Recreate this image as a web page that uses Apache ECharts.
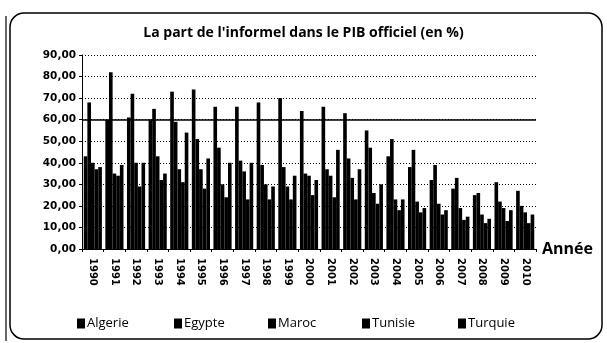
<!DOCTYPE html>
<html>
<head>
<meta charset="utf-8">
<script src="https://cdn.jsdelivr.net/npm/echarts@6/dist/echarts.min.js"></script>
<style>
  html, body { margin: 0; padding: 0; background: #fff; }
  #chart { width: 607px; height: 343px; }
</style>
</head>
<body>
<div id="chart"></div>
<script>
// Share of the informal economy in official GDP (%), 1990-2010
const years = ['1990','1991','1992','1993','1994','1995','1996','1997','1998','1999','2000',
               '2001','2002','2003','2004','2005','2006','2007','2008','2009','2010'];
const countries = ['Algerie', 'Egypte', 'Maroc', 'Tunisie', 'Turquie'];

const algerie = [43, 60, 61, 60, 73, 74, 66, 66, 68, 70, 64, 66, 63, 55, 43, 38, 32, 28, 25, 31, 27];
const egypte  = [68, 82, 72, 65, 59, 51, 47, 41, 39, 38, 35, 37, 42, 47, 51, 46, 39, 33, 26, 22, 20];
const maroc   = [40, 35, 40, 43, 37, 37, 30, 36, 30, 29, 34, 34, 33, 26, 23, 22, 21, 19, 16, 19, 17];
const tunisie = [37, 34, 29, 32, 31, 28, 24, 23, 23, 23, 25, 24, 23, 21, 18, 17, 16, 13.5, 12, 13, 12];
const turquie = [38, 39, 40, 35, 54, 42, 40, 40, 29, 34, 32, 46, 37, 30, 23, 19, 18, 15, 14, 18, 16];

const seriesValues = [algerie, egypte, maroc, tunisie, turquie];
const yTicks = { min: 0, max: 90, step: 10 };

const chart = echarts.init(document.getElementById('chart'), null, { renderer: 'canvas' });

// left edge of each legend entry (legend boxes carry 5px padding)
const legendLefts = [72, 169, 263, 357, 453];

const option = {
  animation: false,
  backgroundColor: '#fff',
  title: {
    text: "La part de l'informel dans le PIB officiel (en %)",
    left: 'center',
    top: 21,
    textStyle: { fontFamily: 'Open Sans', fontSize: 14, fontWeight: 'bold', color: '#000' }
  },
  legend: countries.map((name, i) => ({
    data: [name],
    left: legendLefts[i],
    top: 312,
    icon: 'rect',
    itemWidth: 8,
    itemHeight: 10,
    itemGap: 4,
    selectedMode: false,
    textStyle: { fontFamily: 'Open Sans', fontSize: 13, color: '#000', padding: [0, 0, 0, -3] }
  })),
  grid: { left: 82, right: 71, top: 55, bottom: 94, containLabel: false },
  xAxis: {
    type: 'category',
    data: years,
    name: 'Année',
    nameLocation: 'end',
    nameGap: 6,
    nameTextStyle: { fontFamily: 'Open Sans', fontSize: 16, fontWeight: 'bold', color: '#000', padding: [10, 0, 0, 0] },
    axisLine: { lineStyle: { color: '#000', width: 1 } },
    axisTick: { show: true, length: 3, lineStyle: { color: '#000' } },
    axisLabel: {
      rotate: -90,
      interval: 0,
      margin: 9,
      fontFamily: 'DejaVu Sans',
      fontSize: 10,
      fontWeight: 'bold',
      color: '#000'
    },
    splitLine: { show: false }
  },
  yAxis: {
    type: 'value',
    min: yTicks.min,
    max: yTicks.max,
    interval: yTicks.step,
    axisLine: { show: true, lineStyle: { color: '#000', width: 1 } },
    axisTick: { show: true, inside: false, length: 3, lineStyle: { color: '#000' } },
    axisLabel: {
      margin: 6,
      fontFamily: 'DejaVu Sans',
      fontSize: 10.5,
      fontWeight: 'bold',
      color: '#000',
      formatter: v => v.toFixed(2).replace('.', ',')
    },
    splitLine: { show: true, lineStyle: { color: '#000', type: [1, 2], width: 1 } }
  },
  series: countries.map((name, i) => ({
    name,
    type: 'bar',
    data: seriesValues[i],
    barGap: '0%',
    barCategoryGap: '16%',
    itemStyle: { color: '#000' },
    markLine: i === 0 ? {
      silent: true,
      symbol: 'none',
      label: { show: false },
      lineStyle: { color: '#000', type: 'solid', width: 1.5 },
      data: [{ yAxis: 60 }]
    } : undefined
  })),
  graphic: [
    {
      type: 'rect',
      shape: { x: 10, y: 13, width: 592, height: 326, r: 14 },
      style: { fill: 'none', stroke: '#000', lineWidth: 1.5 },
      silent: true
    },
    {
      type: 'line',
      shape: { x1: 6, y1: 16, x2: 6, y2: 341 },
      style: { stroke: '#000', lineWidth: 1.2 },
      silent: true
    }
  ]
};

chart.setOption(option);
</script>
</body>
</html>
